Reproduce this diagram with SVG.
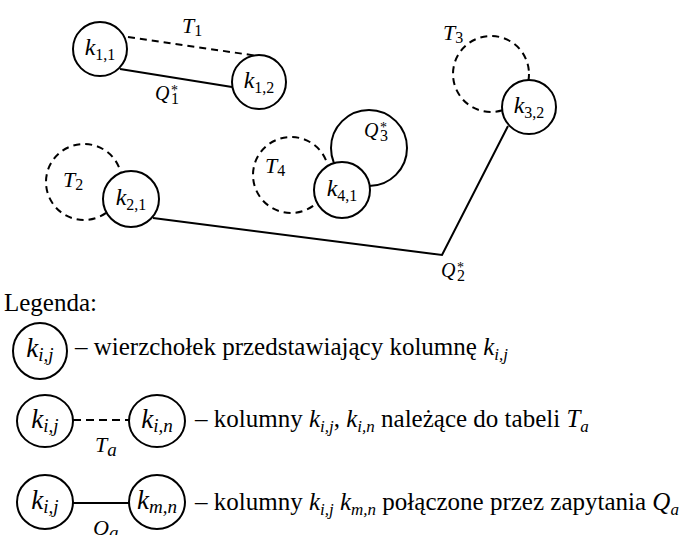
<svg xmlns="http://www.w3.org/2000/svg" width="685" height="535" viewBox="0 0 685 535">
  <style>
    .node { fill: #fff; stroke: #000; stroke-width: 2; }
    .loop { fill: none; stroke: #000; stroke-width: 2; }
    .dash { stroke-dasharray: 7 5; }
    .edge { fill: none; stroke: #000; stroke-width: 2; }
    .m { font-family: "Liberation Serif", "Times New Roman", serif; font-size: 22px; font-style: italic; fill: #000; }
    .q { font-size: 20px; }
    .k { font-size: 24px; }
    .lk { font-size: 27px; }
    .up { font-style: normal; font-size: 16px; }
    .sup { font-style: normal; font-size: 14px; }
    .it { font-style: italic; font-size: 19px; }
    .txt { font-family: "Liberation Serif", "Times New Roman", serif; font-size: 25px; fill: #000; }
    .ti { font-style: italic; }
    .ts { font-size: 17px; font-style: italic; }
  </style>

  <!-- connectors -->
  <g id="connectors">
    <path class="edge dash" d="M128,37 L258,56"/>
    <path class="edge" d="M120,69 L232,87"/>
    <path class="edge" d="M153,218 L442,255 L508,126"/>
    <text class="m" x="182" y="33">T<tspan class="up" dy="3">1</tspan></text>
    <text class="m q" x="155" y="100">Q</text>
    <text class="m sup" x="171" y="95">*</text>
    <text class="m up" x="171" y="104">1</text>
    <text class="m q" x="441" y="277">Q</text>
    <text class="m sup" x="457" y="272">*</text>
    <text class="m up" x="457" y="281">2</text>
  </g>

  <!-- table loops and query loops -->
  <g id="loop-T3">
    <circle class="loop dash" cx="491" cy="74" r="38"/>
    <text class="m" x="443" y="40">T<tspan class="up" dy="3">3</tspan></text>
  </g>
  <g id="loop-T2">
    <circle class="loop dash" cx="84" cy="182" r="38"/>
    <text class="m" x="63" y="187">T<tspan class="up" dy="3">2</tspan></text>
  </g>
  <g id="loop-T4">
    <circle class="loop dash" cx="291" cy="175" r="38"/>
    <text class="m" x="265" y="173">T<tspan class="up" dy="3">4</tspan></text>
  </g>
  <g id="loop-Q3">
    <circle class="loop" cx="369" cy="148" r="38"/>
    <text class="m q" x="364" y="137">Q</text>
    <text class="m sup" x="380" y="132">*</text>
    <text class="m up" x="380" y="141">3</text>
  </g>

  <!-- nodes -->
  <g id="k11">
    <circle class="node" cx="100" cy="49" r="27"/>
    <text class="m k" x="100" y="55" text-anchor="middle">k<tspan class="up" dy="5">1,1</tspan></text>
  </g>
  <g id="k12">
    <circle class="node" cx="259" cy="82" r="27"/>
    <text class="m k" x="259" y="88" text-anchor="middle">k<tspan class="up" dy="5">1,2</tspan></text>
  </g>
  <g id="k21">
    <circle class="node" cx="131" cy="199" r="28"/>
    <text class="m k" x="131" y="205" text-anchor="middle">k<tspan class="up" dy="5">2,1</tspan></text>
  </g>
  <g id="k41">
    <circle class="node" cx="342" cy="190" r="28"/>
    <text class="m k" x="342" y="196" text-anchor="middle">k<tspan class="up" dy="5">4,1</tspan></text>
  </g>
  <g id="k32">
    <circle class="node" cx="529" cy="107" r="27"/>
    <text class="m k" x="529" y="113" text-anchor="middle">k<tspan class="up" dy="5">3,2</tspan></text>
  </g>

  <!-- legend -->
  <g id="legend">
    <text class="txt" x="4" y="311">Legenda:</text>

    <g id="legend-vertex">
      <ellipse class="node" cx="40" cy="351" rx="27" ry="28"/>
      <text class="m lk" x="40" y="357" text-anchor="middle">k<tspan class="it" dy="4">i,j</tspan></text>
      <text class="txt" x="75" y="355">– wierzchołek przedstawiający kolumnę <tspan class="ti">k</tspan><tspan class="ts" dy="5">i,j</tspan></text>
    </g>

    <g id="legend-table">
      <path class="edge" d="M73,420 L129,420" stroke-dasharray="8 5"/>
      <ellipse class="node" cx="45" cy="421" rx="28" ry="26"/>
      <ellipse class="node" cx="157" cy="421" rx="28" ry="26"/>
      <text class="m lk" x="45" y="428" text-anchor="middle">k<tspan class="it" dy="4">i,j</tspan></text>
      <text class="m lk" x="157" y="428" text-anchor="middle">k<tspan class="it" dy="4">i,n</tspan></text>
      <text class="m" x="95" y="452">T<tspan class="it" dy="4">a</tspan></text>
      <text class="txt" x="195" y="427">– kolumny <tspan class="ti">k</tspan><tspan class="ts" dy="5">i,j</tspan><tspan dy="-5">, </tspan><tspan class="ti">k</tspan><tspan class="ts" dy="5">i,n</tspan><tspan dy="-5"> należące do tabeli </tspan><tspan class="ti">T</tspan><tspan class="ts" dy="5">a</tspan></text>
    </g>

    <g id="legend-query">
      <path class="edge" d="M73,503 L129,503"/>
      <ellipse class="node" cx="45" cy="502" rx="28" ry="27"/>
      <ellipse class="node" cx="157" cy="502" rx="28" ry="27"/>
      <text class="m lk" x="45" y="509" text-anchor="middle">k<tspan class="it" dy="4">i,j</tspan></text>
      <text class="m lk" x="157" y="509" text-anchor="middle">k<tspan class="it" dy="4">m,n</tspan></text>
      <text class="m" x="93" y="535">Q<tspan class="it" dy="4">a</tspan></text>
      <text class="txt" x="195" y="510">– kolumny <tspan class="ti">k</tspan><tspan class="ts" dy="5">i,j</tspan><tspan dy="-5"> </tspan><tspan class="ti">k</tspan><tspan class="ts" dy="5">m,n</tspan><tspan dy="-5"> połączone przez zapytania </tspan><tspan class="ti">Q</tspan><tspan class="ts" dy="5">a</tspan></text>
    </g>
  </g>
</svg>
